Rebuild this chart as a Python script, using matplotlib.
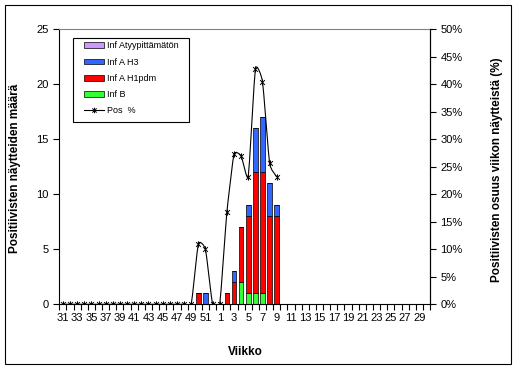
import matplotlib
matplotlib.use("Agg")
import matplotlib.pyplot as plt
import numpy as np
from matplotlib.path import Path
from matplotlib.patches import PathPatch, Rectangle
from matplotlib.lines import Line2D

plt.rcParams['font.family'] = ['Liberation Sans', 'DejaVu Sans']

weeks = list(range(31, 53)) + list(range(1, 31))
inf_b    = [0]*19 + [0, 0, 0, 0, 0, 0, 2, 1, 1, 1, 0, 0] + [0]*21
inf_h1   = [0]*19 + [1, 0, 0, 0, 1, 2, 5, 7, 11, 11, 8, 8] + [0]*21
inf_h3   = [0]*19 + [0, 1, 0, 0, 0, 1, 0, 1, 4, 5, 3, 1] + [0]*21
inf_atyp = [0]*52
pos_pct  = [0]*19 + [11.0, 10.0, 0, 0, 16.7, 27.3, 27.0, 23.2, 42.8, 40.5, 25.6, 23.2]

col_atyp = '#CC99FF'
col_h3 = '#3366FF'
col_h1 = '#FF0000'
col_b = '#33FF33'

fig = plt.figure(figsize=(5.15, 3.68), dpi=100)
fig.patch.set_facecolor('white')
ax = fig.add_axes([0.1152, 0.1731, 0.7198, 0.7473])
ax2 = ax.twinx()

x = np.arange(len(weeks))
w = 0.65
b = np.array(inf_b); h1 = np.array(inf_h1); h3 = np.array(inf_h3); at = np.array(inf_atyp)
kw = dict(width=w, edgecolor='black', linewidth=0.5)
ax.bar(x, b, color=col_b, **kw)
ax.bar(x, h1, bottom=b, color=col_h1, **kw)
ax.bar(x, h3, bottom=b+h1, color=col_h3, **kw)
ax.bar(x, at, bottom=b+h1+h3, color=col_atyp, **kw)

ax.set_xlim(-0.5, len(weeks)-0.5)
ax.set_ylim(0, 25)
ax.set_yticks(np.arange(0, 26, 5))
ax.set_xticks(x[::2])
ax.set_xticklabels([str(wk) for wk in weeks[::2]], fontsize=8)
ax.set_xticks(np.arange(-0.5, len(weeks), 1), minor=True)
ax.tick_params(axis='x', which='major', length=0, pad=6)
ax.tick_params(axis='x', which='minor', length=4, direction='out', width=0.8)
ax.tick_params(axis='y', labelsize=8, length=4, direction='out', width=0.8)
for s in ['left', 'bottom', 'right']:
    ax.spines[s].set_linewidth(0.8)
ax.spines['top'].set_color('#808080')
ax.spines['top'].set_linewidth(0.8)

# lightly smoothed percentage line (Bezier through the points)
px = np.arange(len(pos_pct), dtype=float)
py = np.array(pos_pct, dtype=float)
verts = [(px[0], py[0])]
codes = [Path.MOVETO]
n = len(px)
k = 1/14.0
for i in range(n-1):
    p0 = np.array([px[max(i-1, 0)], py[max(i-1, 0)]])
    p1 = np.array([px[i], py[i]])
    p2 = np.array([px[i+1], py[i+1]])
    p3 = np.array([px[min(i+2, n-1)], py[min(i+2, n-1)]])
    c1 = p1 + (p2 - p0)*k
    c2 = p2 - (p3 - p1)*k
    verts += [tuple(c1), tuple(c2), tuple(p2)]
    codes += [Path.CURVE4]*3
ax2.add_patch(PathPatch(Path(verts, codes), facecolor='none', edgecolor='black', linewidth=0.8))
star = Path([(-1, -1), (1, 1), (-1, 1), (1, -1), (0, -1.3), (0, 1.3)],
            [Path.MOVETO, Path.LINETO, Path.MOVETO, Path.LINETO, Path.MOVETO, Path.LINETO])
ax2.plot(px, py, linestyle='none', marker=star, markersize=4.5, markeredgewidth=0.7,
         color='black')
ax2.set_ylim(0, 50)
ax2.set_yticks(np.arange(0, 51, 5))
ax2.set_yticklabels([f'{v}%' for v in range(0, 51, 5)])
ax2.tick_params(axis='y', labelsize=8, length=4, direction='out', width=0.8)
ax2.spines['top'].set_visible(False)
ax2.spines['left'].set_visible(False)
ax2.spines['bottom'].set_visible(False)
ax2.spines['right'].set_linewidth(0.8)

fig.text(0.029, 0.542, 'Positiivisten näytteiden määrä', rotation=90, ha='center', va='center',
         fontsize=8.5, fontweight='bold')
fig.text(0.9645, 0.538, 'Positiivisten osuus viikon näytteistä (%)', rotation=90, ha='center',
         va='center', fontsize=8.5, fontweight='bold')
fig.text(0.476, 0.0443, 'Viikko', ha='center', va='center', fontsize=8.5, fontweight='bold')

handles = [
    Rectangle((0, 0), 1, 1, facecolor=col_atyp, edgecolor='black', linewidth=0.5),
    Rectangle((0, 0), 1, 1, facecolor=col_h3, edgecolor='black', linewidth=0.5),
    Rectangle((0, 0), 1, 1, facecolor=col_h1, edgecolor='black', linewidth=0.5),
    Rectangle((0, 0), 1, 1, facecolor=col_b, edgecolor='black', linewidth=0.5),
    Line2D([], [], color='black', linewidth=0.8, marker=star, markersize=4, markeredgewidth=0.7),
]
labels = ['Inf Atyypittämätön', 'Inf A H3', 'Inf A H1pdm', 'Inf B', 'Pos  %']
leg = fig.legend(handles, labels, loc='upper left', bbox_to_anchor=(84/515, 1-41.5/368),
                 bbox_transform=fig.transFigure, fontsize=6.5, frameon=False,
                 handlelength=2.2, handleheight=0.6, labelspacing=0.8,
                 borderpad=0, handletextpad=0.33, borderaxespad=0)
fig.patches.append(Rectangle((72.7/515, 1-122.3/368), (189.3-72.7)/515, (122.3-38.3)/368,
                             transform=fig.transFigure, facecolor='white', edgecolor='black',
                             linewidth=0.8, zorder=2))
leg.set_zorder(3)

fig.patches.append(Rectangle((5/515, 1-364/368), (510.5-5)/515, (364-4.5)/368,
                             transform=fig.transFigure, fill=False, edgecolor='black',
                             linewidth=0.8))

fig.savefig('out.png', dpi=100, facecolor='white')
